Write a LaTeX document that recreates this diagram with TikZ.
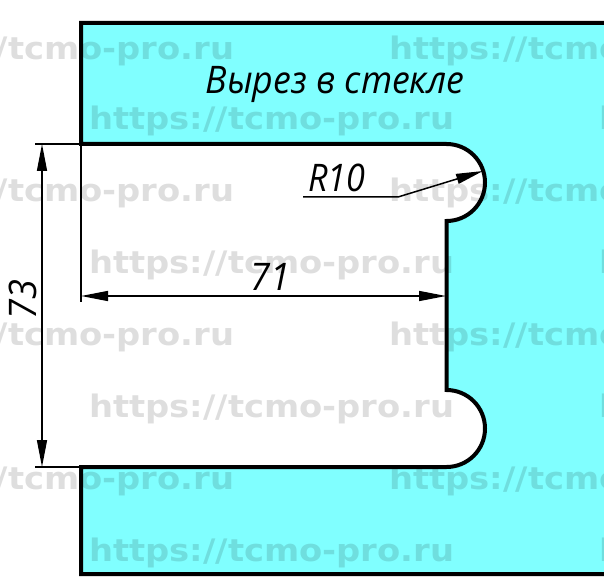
\documentclass[tikz,border=0pt]{standalone}
\usepackage{fontspec}
\setmainfont{DejaVu Sans}
\newfontfamily\gostfont{Open Sans}
\usetikzlibrary{arrows.meta}
\definecolor{glass}{HTML}{80FFFF}
\newcommand{\wmtext}{\scalebox{1.09}[1]{https://tcmo-pro.ru}}
\tikzset{
  x=1pt,y=-1pt,
  glassline/.style={line width=4pt,line join=miter},
  thinline/.style={line width=1.5pt},
  dimline/.style={line width=1.5pt,{Triangle[length=27pt,width=10pt]}-{Triangle[length=27pt,width=10pt]}},
  leaderline/.style={line width=1.5pt,line join=miter,-{Triangle[length=27pt,width=10pt]}},
  wm/.style={font=\fontsize{31}{33}\selectfont\bfseries,text=black,text opacity=0.13,inner sep=0pt,anchor=west},
  dimtext/.style={font=\fontsize{38}{40}\selectfont\gostfont\itshape,inner sep=0pt},
}
\begin{document}
\begin{tikzpicture}
\useasboundingbox (0,0) rectangle (604,585);
\clip (0,0) rectangle (604,585);
\fill[white] (0,0) rectangle (604,585);
\coordinate (tl) at (81,23);
\coordinate (tr) at (610,23);
\coordinate (br) at (610,574);
\coordinate (bl) at (81,574);
\coordinate (nt) at (81,144);
\coordinate (nb) at (81,467);
\coordinate (ntr) at (446.5,144);
\coordinate (nbr) at (446.5,467);
\fill[glass] (tl) -- (tr) -- (br) -- (bl) -- (nb) -- (nbr)
  arc[start angle=90,end angle=-90,radius=38.5] -- ++(0,-169)
  arc[start angle=90,end angle=-90,radius=38.5] -- (nt) -- cycle;
\foreach \yy in {51,193,337,481}{
  \node[wm] at (-131,\yy) {\wmtext};
  \node[wm] at (389,\yy) {\wmtext};
}
\foreach \yy in {121,265,409,553}{
  \node[wm] at (89,\yy) {\wmtext};
  \node[wm] at (599,\yy) {\wmtext};
}
\draw[glassline] (br) -- (bl) -- (nb) -- (nbr)
  arc[start angle=90,end angle=-90,radius=38.5] -- ++(0,-169)
  arc[start angle=90,end angle=-90,radius=38.5] -- (nt) -- (tl) -- (tr);
\coordinate (e1) at (35,144);
\coordinate (e2) at (35,467);
\coordinate (e3) at (81,302);
\coordinate (d1) at (42,144);
\coordinate (d2) at (42,467);
\coordinate (h1) at (81,296);
\coordinate (h2) at (446,296);
\coordinate (l1) at (303,197);
\coordinate (l2) at (398,197);
\coordinate (l3) at (483,171);
\draw[thinline] (e1) -- (nt) -- (e3);
\draw[thinline] (e2) -- (nb);
\draw[dimline] (d1) -- (d2);
\draw[dimline] (h1) -- (h2);
\draw[leaderline] (l1) -- (l2) -- (l3);
\node[dimtext] (title) at (335,84) {\scalebox{0.94}[1]{Вырез в стекле}};
\node[dimtext] (t71) at (270,277) {\scalebox{0.95}[1]{71}};
\node[dimtext,rotate=90] (t73) at (23,300) {\scalebox{0.95}[1]{73}};
\node[dimtext] (r10) at (337,178) {\scalebox{0.9}[1]{R10}};
\end{tikzpicture}
\end{document}
